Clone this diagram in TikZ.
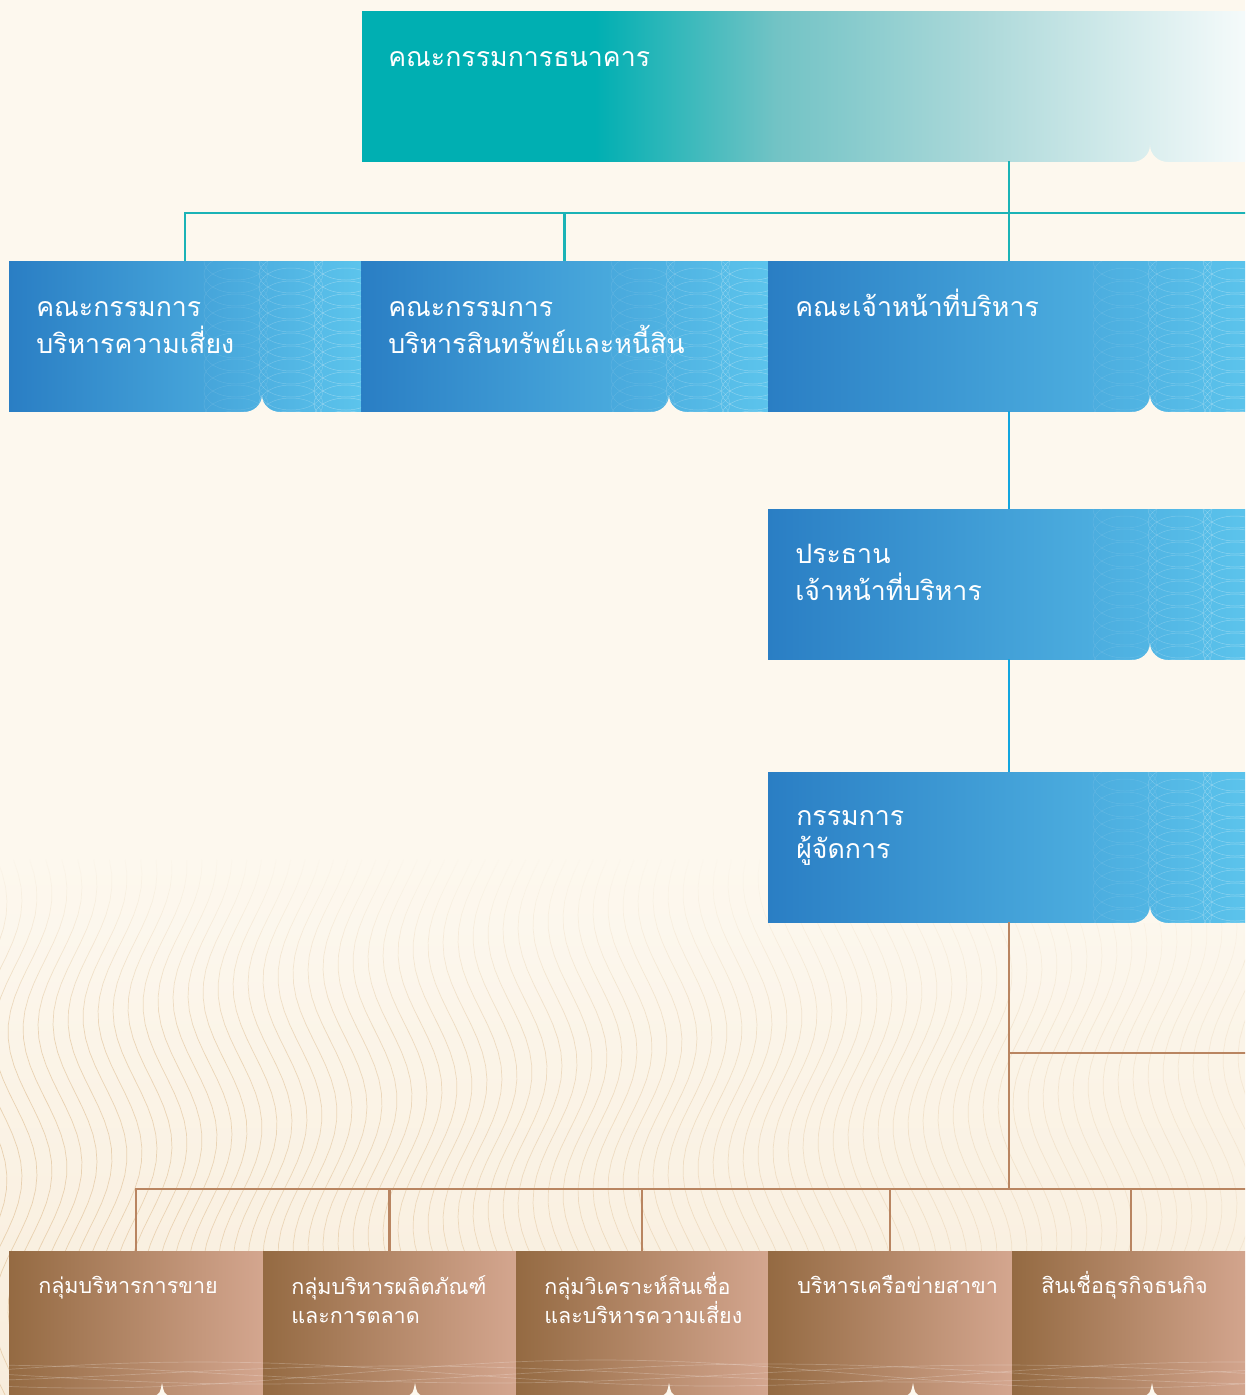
\documentclass[tikz,border=0pt]{standalone}
\usepackage{fontspec}
\newfontfamily\thaifont[Script=Thai]{Loma}
\usetikzlibrary{positioning, calc, fadings}
\definecolor{PaperTop}{HTML}{FDF8EE}
\definecolor{PaperLow}{HTML}{F8EDDC}
\definecolor{WaveTan}{HTML}{DDBB8E}
\definecolor{BoardTeal}{HTML}{00AFB2}
\definecolor{BoardMidA}{HTML}{72C3C5}
\definecolor{BoardMidB}{HTML}{ADD9DA}
\definecolor{BoardPale}{HTML}{F4FAFA}
\definecolor{ExecDeep}{HTML}{2A7EC4}
\definecolor{ExecLight}{HTML}{5CC4EC}
\definecolor{GroupDeep}{HTML}{946A42}
\definecolor{GroupLight}{HTML}{D4A68F}
\definecolor{TealLine}{HTML}{1BB3B6}
\definecolor{BlueLine}{HTML}{12A6DF}
\definecolor{BrownLine}{HTML}{B98561}
\newcommand{\pxl}{0.025cm}
\pgfdeclarehorizontalshading{boardfade}{100bp}{color(0bp)=(BoardTeal); color(34bp)=(BoardTeal); color(41bp)=(BoardMidA); color(49bp)=(BoardMidB); color(59bp)=(BoardPale); color(100bp)=(BoardPale)}
\tikzset{
  boxbase/.style={rectangle, inner sep=0pt, outer sep=0pt, anchor=north west, minimum height=150*\pxl},
  boardbox/.style={boxbase, shading=boardfade, minimum width=1294*\pxl},
  execbox/.style={boxbase, left color=ExecDeep, right color=ExecLight},
  groupbox/.style={boxbase, left color=GroupDeep, right color=GroupLight, minimum height=160*\pxl},
  headtext/.style={anchor=base west, align=left, inner sep=0pt, text=white, font=\thaifont\fontsize{19}{26.3}\selectfont},
  grouptext/.style={anchor=base west, align=left, inner sep=0pt, text=white, font=\thaifont\fontsize{15.3}{20.6}\selectfont},
  tealline/.style={draw=TealLine, line width=2pt},
  blueline/.style={draw=BlueLine, line width=2pt},
  brownline/.style={draw=BrownLine, line width=2pt},
  waveline/.style={draw=WaveTan, line width=0.5pt},
  ringline/.style={draw=white, line width=0.35pt},
  groupwave/.style={draw=white, line width=0.5pt, opacity=0.22}
}
% rings on the right part of a blue box
\newcommand{\ringpattern}[2]{%
  \begin{scope}
    \clip (#1.north west) rectangle (#1.south east);
    \foreach \col/\op in {125/0.35, 70/0.7, 15/1} {
      \foreach \dy in {0,13,...,170} {
        \draw[ringline, opacity=#2*\op] ($(#1.north east)+(-\col,\dy)$) ellipse [x radius=32, y radius=19];
      }
    }
  \end{scope}}
% the small cut under a box
\newcommand{\notchcut}[2]{%
  \fill[PaperTop] (#1-18,#2+1) to[out=0,in=-90] (#1,#2-16) to[out=-90,in=180] (#1+18,#2+1) -- cycle;}

\begin{document}
\begin{tikzpicture}[x=0.025cm, y=-0.025cm]
\useasboundingbox (0,0) rectangle (1245,1395);
\clip (0,0) rectangle (1245,1395);
% paper and waves
\fill[PaperTop] (0,0) rectangle (1245,861);
\fill[top color=PaperTop, bottom color=PaperLow] (0,860) rectangle (1245,1395);
\foreach \k in {-8,...,84} {
  \pgfmathsetmacro{\wx}{\k*15}
  \pgfmathsetmacro{\wop}{max(0.12, 0.6-0.4*\wx/1245)}
  \draw[waveline, opacity=\wop] plot[domain=860:1395, samples=40, variable=\t] ({\wx+22*sin(1.3*\t+\k*4)}, \t);
}
\fill[PaperTop, path fading=south] (0,850) rectangle (1245,1040);

% boxes
\node[boardbox] (board) at (362,11) {};
\node[execbox, minimum width=352*\pxl] (riskcom) at (9,261) {};
\node[execbox, minimum width=407*\pxl] (alco) at (361,261) {};
\node[execbox, minimum width=482*\pxl] (exec) at (768,261) {};
\node[execbox, minimum width=482*\pxl] (ceo) at (768,509) {};
\node[execbox, minimum width=482*\pxl] (md) at (768,772) {};
\node[groupbox, minimum width=254*\pxl] (sales) at (9,1251) {};
\node[groupbox, minimum width=253*\pxl] (product) at (263,1251) {};
\node[groupbox, minimum width=252*\pxl] (credit) at (516,1251) {};
\node[groupbox, minimum width=244*\pxl] (branch) at (768,1251) {};
\node[groupbox, minimum width=238*\pxl] (business) at (1012,1251) {};

\ringpattern{board}{0.35}
\ringpattern{riskcom}{0.3}
\ringpattern{alco}{0.3}
\ringpattern{exec}{0.3}
\ringpattern{ceo}{0.3}
\ringpattern{md}{0.3}
\notchcut{1150}{161}
\notchcut{262}{411}
\notchcut{669}{411}
\notchcut{1150}{411}
\notchcut{1150}{659}
\notchcut{1150}{922}

% waves and spires on the groups
\begin{scope}
  \clip (sales.north west) rectangle (business.south east);
  \foreach \ph/\amp in {0/10, 60/14, 130/8, 200/12, 280/9} {
    \draw[groupwave] plot[domain=0:1260, samples=60, variable=\t] (\t, {1374+\amp*sin(0.35*\t+\ph)});
  }
\end{scope}
\foreach \sx in {162,415,669,913,1152} {
  \fill[PaperTop] (\sx-7,1396) .. controls (\sx-2,1393) .. (\sx,1383) .. controls (\sx+2,1393) .. (\sx+7,1396) -- cycle;
}

% connectors
\coordinate (tealend) at (1260,213);
\coordinate (sideend) at (1260,1053);
\coordinate (groupend) at (1260,1189);
\draw[tealline] (board.south) -- (exec.north);
\draw[tealline] (riskcom.north) |- (tealend);
\draw[tealline] (alco.north) -- (alco.north |- tealend);
\draw[blueline] (exec.south) -- (ceo.north);
\draw[blueline] (ceo.south) -- (md.north);
\draw[brownline] (md.south) -- (md.south |- groupend);
\draw[brownline] (md.south |- sideend) -- (sideend);
\draw[brownline] (sales.north) |- (groupend);
\draw[brownline] (product.north) -- (product.north |- groupend);
\draw[brownline] (credit.north) -- (credit.north |- groupend);
\draw[brownline] (branch.north) -- (branch.north |- groupend);
\draw[brownline] (business.north) -- (business.north |- groupend);

% texts (base = last line)
\node[headtext] (board-t) at ($(board.north west)+(26,55)$) {คณะกรรมการธนาคาร};
\node[headtext] (riskcom-t) at ($(riskcom.north west)+(27,92)$) {คณะกรรมการ\\บริหารความเสี่ยง};
\node[headtext] (alco-t) at ($(alco.north west)+(27,92)$) {คณะกรรมการ\\บริหารสินทรัพย์และหนี้สิน};
\node[headtext] (exec-t) at ($(exec.north west)+(27,55)$) {คณะเจ้าหน้าที่บริหาร};
\node[headtext] (ceo-t) at ($(ceo.north west)+(27,91)$) {ประธาน\\เจ้าหน้าที่บริหาร};
\node[headtext, font=\thaifont\fontsize{19}{22.8}\selectfont] (md-t) at ($(md.north west)+(28,86)$) {กรรมการ\\ผู้จัดการ};
\node[grouptext] (sales-t) at ($(sales.north west)+(29,42)$) {กลุ่มบริหารการขาย};
\node[grouptext] (product-t) at ($(product.north west)+(28,72)$) {กลุ่มบริหารผลิตภัณฑ์\\และการตลาด};
\node[grouptext] (credit-t) at ($(credit.north west)+(28,72)$) {กลุ่มวิเคราะห์สินเชื่อ\\และบริหารความเสี่ยง};
\node[grouptext] (branch-t) at ($(branch.north west)+(29,42)$) {บริหารเครือข่ายสาขา};
\node[grouptext] (business-t) at ($(business.north west)+(29,42)$) {สินเชื่อธุรกิจธนกิจ};
\end{tikzpicture}
\end{document}
